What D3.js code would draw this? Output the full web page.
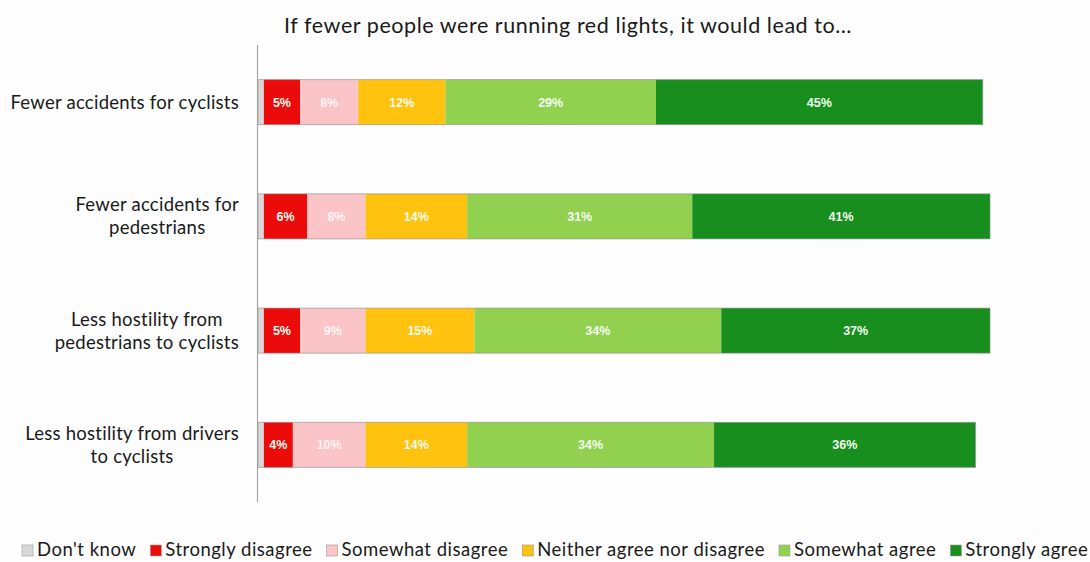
<!DOCTYPE html>
<html>
<head>
<meta charset="utf-8">
<script src="https://cdn.jsdelivr.net/npm/d3@7"></script>
<style>
  html, body { margin: 0; padding: 0; background: #fdfdfd; }
  svg { display: block; }
  text { font-family: Lato, "Noto Sans", sans-serif; }
</style>
</head>
<body>
<svg id="chart" width="1090" height="562"></svg>
<script>
// Survey statements (y categories); "\n" splits a label into lines
const categories = [
  "Fewer accidents for cyclists",
  "Fewer accidents for\npedestrians",
  "Less hostility from\npedestrians to cyclists",
  "Less hostility from drivers\nto cyclists"
];

// Response scale, drawn left to right
const responses = [
  "Don't know",
  "Strongly disagree",
  "Somewhat disagree",
  "Neither agree nor disagree",
  "Somewhat agree",
  "Strongly agree"
];

// Share of respondents (%) per statement
const dontKnow          = [0.8, 0.8, 0.8, 0.8];
const stronglyDisagree  = [5, 6, 5, 4];
const somewhatDisagree  = [8, 8, 9, 10];
const neitherAgree      = [12, 14, 15, 14];
const somewhatAgree     = [29, 31, 34, 34];
const stronglyAgree     = [45, 41, 37, 36];

const seriesValues = [dontKnow, stronglyDisagree, somewhatDisagree, neitherAgree, somewhatAgree, stronglyAgree];

const colors = ["#d9d9d9", "#ec0b0b", "#fbc4c6", "#ffc20e", "#92d050", "#178e1d"];
const showLabel = [false, true, true, true, true, true];

const title = "If fewer people were running red lights, it would lead to…";

const svg = d3.select("#chart");

// Build rows for stacking
const rows = categories.map((c, i) => {
  const r = { category: c };
  responses.forEach((k, j) => { r[k] = seriesValues[j][i]; });
  return r;
});
const stacked = d3.stack().keys(responses)(rows);

const x = d3.scaleLinear().domain([0, 100]).range([258, 984.2]);
const y = d3.scaleBand().domain(categories).range([45, 502])
  .paddingInner(0.606).paddingOuter(0.303);

// Title
svg.append("text")
  .attr("x", 568).attr("y", 33)
  .attr("text-anchor", "middle")
  .attr("font-size", 21.5)
  .attr("letter-spacing", 0.55)
  .attr("fill", "#1a1a1a")
  .text(title);

// Bars
const layers = svg.append("g").selectAll("g")
  .data(stacked).join("g")
  .attr("fill", (d, i) => colors[i]);

layers.selectAll("rect")
  .data(d => d.map(s => ({ s, key: d.key })))
  .join("rect")
  .attr("x", d => x(d.s[0]))
  .attr("y", d => y(d.s.data.category))
  .attr("width", d => x(d.s[1]) - x(d.s[0]))
  .attr("height", y.bandwidth());

// Thin outline around each full bar
svg.append("g").selectAll("rect")
  .data(rows).join("rect")
  .attr("x", x(0))
  .attr("y", d => y(d.category))
  .attr("width", (d, i) => x(stacked[stacked.length - 1][i][1]) - x(0))
  .attr("height", y.bandwidth())
  .attr("fill", "none")
  .attr("stroke", "#8a8a8a")
  .attr("stroke-opacity", 0.6)
  .attr("stroke-width", 1);

// Value labels
stacked.forEach((layer, li) => {
  if (!showLabel[li]) return;
  svg.append("g").selectAll("text")
    .data(layer).join("text")
    .attr("x", d => (x(d[0]) + x(d[1])) / 2)
    .attr("y", d => y(d.data.category) + y.bandwidth() / 2)
    .attr("dy", "0.35em")
    .attr("text-anchor", "middle")
    .attr("font-weight", "bold")
    .attr("font-size", 12.5)
    .attr("fill", li === 2 ? "#fff3f3" : "#f4fbef")
    .style("font-family", "'Liberation Sans', Arial, sans-serif")
    .text(d => d3.format("d")(d[1] - d[0]) + "%");
});

// Vertical axis line
svg.append("line")
  .attr("x1", 257.5).attr("x2", 257.5)
  .attr("y1", 45).attr("y2", 502)
  .attr("stroke", "#a6a6a6").attr("stroke-width", 1.2);

// Category labels: block right-aligned, lines centred within block
const labelRight = 239;
const lineH = 23;
const labelG = svg.append("g");
categories.forEach(c => {
  const lines = c.split("\n");
  const t = labelG.append("text")
    .attr("font-size", 18.5)
    .attr("letter-spacing", 0.25)
    .attr("fill", "#1a1a1a")
    .attr("text-anchor", "middle");
  lines.forEach(ln => {
    t.append("tspan").attr("x", 0).attr("y", 0).text(ln);
  });
  let maxW = 0;
  t.selectAll("tspan").each(function () {
    maxW = Math.max(maxW, this.getComputedTextLength());
  });
  const cx = labelRight - maxW / 2;
  const cy = y(c) + y.bandwidth() / 2;
  const startY = cy - (lines.length - 1) * lineH / 2;
  t.selectAll("tspan")
    .attr("x", cx)
    .attr("y", (d, i) => startY + i * lineH)
    .attr("dy", "0.35em");
});

// Legend
const legend = svg.append("g");
let lx = 22;
const ly = 550;
responses.forEach((r, i) => {
  legend.append("rect")
    .attr("x", lx).attr("y", ly - 5)
    .attr("width", 11).attr("height", 11)
    .attr("fill", colors[i])
    .attr("stroke", "#9a9a9a").attr("stroke-width", 0.6);
  const t = legend.append("text")
    .attr("x", lx + 15).attr("y", ly)
    .attr("dy", "0.35em")
    .attr("font-size", 18.5)
    .attr("letter-spacing", 0.5)
    .attr("fill", "#1a1a1a")
    .text(r);
  lx += 15 + t.node().getComputedTextLength() + 14;
});
</script>
</body>
</html>
